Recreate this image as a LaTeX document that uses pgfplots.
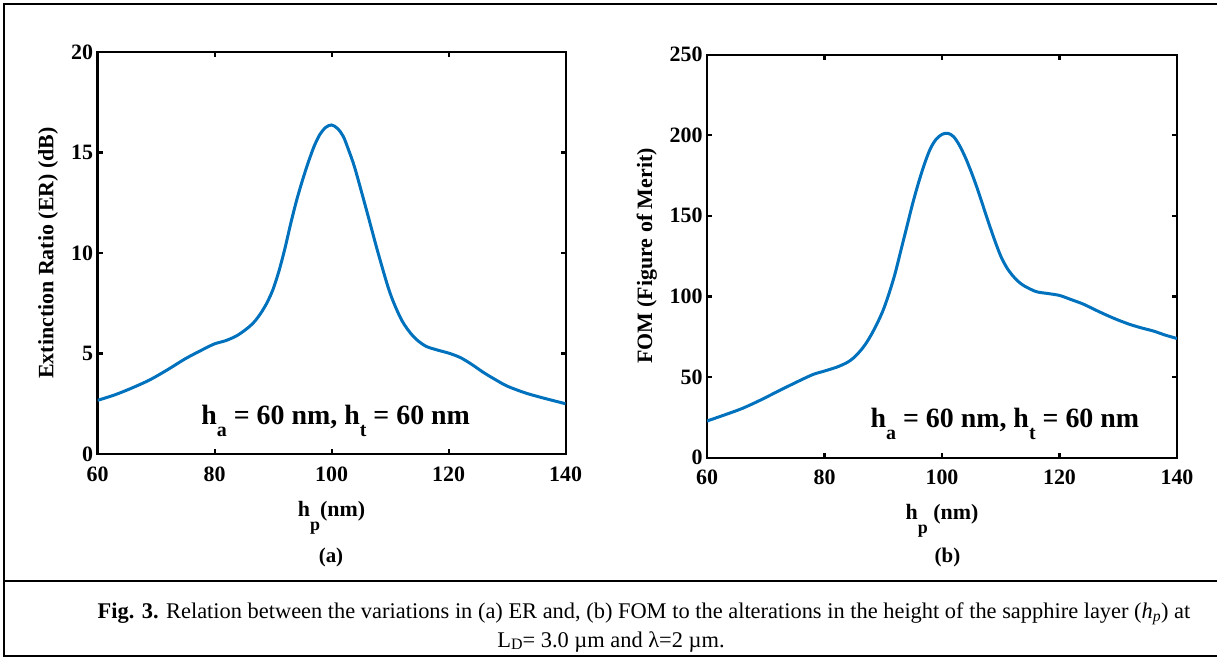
\documentclass[border=0pt]{standalone}
\usepackage{pgfplots}
\pgfplotsset{compat=1.18}
\usepackage{fontspec}
\setmainfont{Liberation Serif}
\definecolor{mblue}{RGB}{0,114,189}
\newcommand{\sub}[1]{\raisebox{-12bp}{\fontsize{20}{20}\selectfont #1}}
\newcommand{\lsub}[1]{\raisebox{-14bp}{\fontsize{18}{18}\selectfont #1}}

\pgfplotstableread{
x y
60 2.67
63 2.95
66 3.3
69 3.7
72 4.2
75 4.74
78 5.2
80 5.48
82 5.65
84 5.92
86 6.35
87 6.65
88 7.05
89 7.55
90 8.2
91 9.1
92 10.2
93 11.45
94 12.6
95 13.6
96 14.5
97 15.3
98 15.9
99 16.25
100 16.37
101 16.2
102 15.8
103 15.05
104 14.2
106 12.1
108 9.95
110 8.0
112 6.65
114 5.84
116 5.38
118 5.18
120 5.02
122 4.8
124 4.45
126 4.05
128 3.7
130 3.38
133 3.05
136 2.8
140 2.5
}\ertable

\pgfplotstableread{
x y
60 22.7
63 26.5
66 30.5
69 35.5
72 41
75 46.4
78 51.5
80 53.7
82 56
83 57.5
84 59.3
85 62
86 65.8
87 70.5
88 76.5
89 83.5
90 91.6
91 102
92 114
93 128.5
94 143
95 157.5
96 170.5
97 182
98 191.5
99 197.5
100 200.5
101 201.2
102 199
103 193.5
104 186
105 177
106 167
107 156
108 145
109 134.5
110 125
111 118
112 113
113 109.2
114 106.5
116 103
118 101.8
120 100.6
122 98
124 95.3
126 91.8
128 88.4
130 85.3
132 82.6
134 80.4
136 78.5
138 76
140 73.9
}\fomtable

\begin{document}
\begin{tikzpicture}
\pgfplotsset{
  myax/.style={
    scale only axis,
    axis line style={line width=2.2bp},
    every tick/.style={line width=2.2bp, black},
    major tick length=5bp,
    tick align=inside,
    xmin=60, xmax=140,
    xtick={60,80,100,120,140},
    /pgf/number format/assume math mode=true,
    ticklabel style={font=\fontsize{22}{24}\selectfont\bfseries},
    xticklabel style={yshift=-9bp},
    yticklabel style={xshift=-1bp},
    every axis y label/.style={rotate=90, anchor=center, font=\fontsize{22}{26}\selectfont\bfseries},
    every axis x label/.style={anchor=base, font=\fontsize{22}{26}\selectfont\bfseries},
  }
}
\path[use as bounding box] (0,0) rectangle (1217bp,-660bp);
\draw[line width=2bp] (1220bp,-4bp) -- (4bp,-4bp) -- (4bp,-656bp) -- (1220bp,-656bp);
\draw[line width=2bp] (4bp,-581bp) -- (1220bp,-581bp);

\begin{axis}[myax,
  at={(97.6bp,-454bp)}, anchor=south west,
  width=468bp, height=402bp,
  ymin=0, ymax=20, ytick={0,5,10,15,20},
  ylabel={Extinction Ratio (ER) (dB)},
  y label style={at={(axis description cs:-0.106,0.5)}},
  xlabel={h\lsub{p}(nm)},
  x label style={at={(axis description cs:0.5,-0.155)}},
]
\addplot[mblue, line width=3bp, smooth] table[x=x,y=y] {\ertable};
\node[anchor=base, font=\fontsize{28}{30}\selectfont\bfseries] at (axis cs:100.7,1.45) {h\sub{a} = 60 nm, h\sub{t} = 60 nm};
\end{axis}

\begin{axis}[myax,
  at={(707bp,-457.6bp)}, anchor=south west,
  width=470bp, height=403bp,
  ymin=0, ymax=250, ytick={0,50,100,150,200,250},
  ylabel={FOM (Figure of Merit)},
  y label style={at={(axis description cs:-0.128,0.5)}},
  xlabel={h\lsub{p} (nm)},
  x label style={at={(axis description cs:0.5,-0.153)}},
]
\addplot[mblue, line width=3bp, smooth] table[x=x,y=y] {\fomtable};
\node[anchor=base, font=\fontsize{28}{30}\selectfont\bfseries] at (axis cs:110.7,18.5) {h\sub{a} = 60 nm, h\sub{t} = 60 nm};
\end{axis}

\node[anchor=base, font=\fontsize{21}{24}\selectfont\bfseries] at (331bp,-562bp) {(a)};
\node[anchor=base, font=\fontsize{21}{24}\selectfont\bfseries] at (947.5bp,-562bp) {(b)};

\node[anchor=base, font=\fontsize{22.5}{24}\selectfont] at (644bp,-618bp) {\textbf{Fig. 3.} Relation between the variations in (a) ER and, (b) FOM to the alterations in the height of the sapphire layer (\textit{h\textsubscript{p}}) at};
\node[anchor=base, font=\fontsize{22.5}{24}\selectfont] at (611bp,-647bp) {L\raisebox{-0.1em}{\fontsize{16}{16}\selectfont D}= 3.0 µm and λ=2 µm.};
\end{tikzpicture}
\end{document}
